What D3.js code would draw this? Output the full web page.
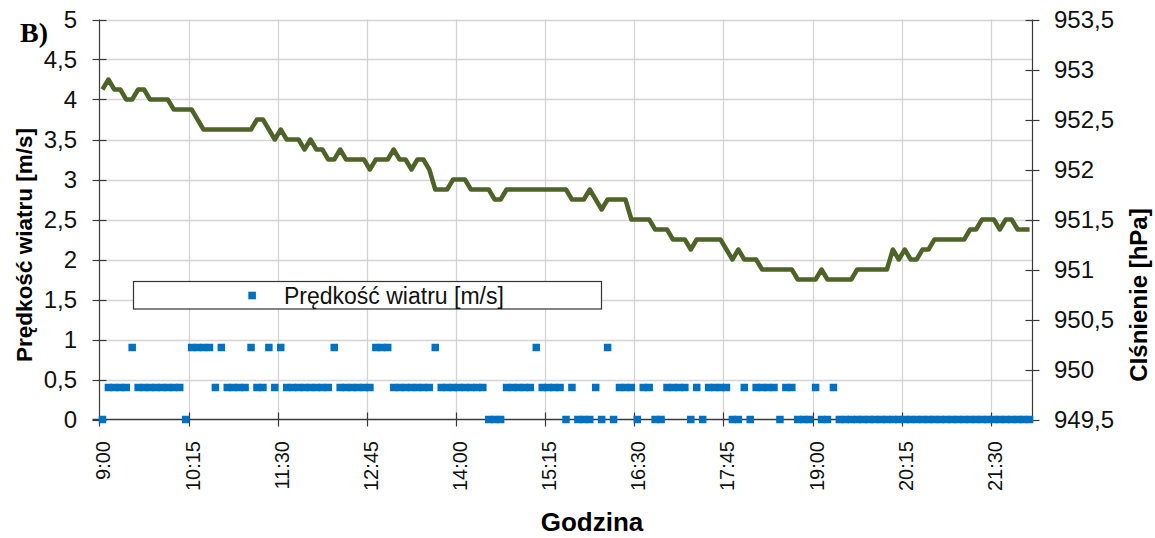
<!DOCTYPE html>
<html>
<head>
<meta charset="utf-8">
<script src="https://cdn.jsdelivr.net/npm/d3@7"></script>
<style>
  html, body { margin: 0; padding: 0; background: #fff; }
  svg { display: block; font-family: "Liberation Sans", Arial, sans-serif; }
</style>
</head>
<body>
<svg id="chart" width="1155" height="538"></svg>
<script>
// ---- data ----
const categories = [];
for (let m = 9 * 60; m <= 22 * 60; m += 5) {
  categories.push(Math.floor(m / 60) + ":" + String(m % 60).padStart(2, "0"));
}
const tickLabels = ["9:00", "10:15", "11:30", "12:45", "14:00", "15:15", "16:30", "17:45", "19:00", "20:15", "21:30"];
const windTicks = [0, 0.5, 1, 1.5, 2, 2.5, 3, 3.5, 4, 4.5, 5];
const pressureTicks = [949.5, 950, 950.5, 951, 951.5, 952, 952.5, 953, 953.5];

const windSpeed = [
  0, 0.4, 0.4, 0.4, 0.4, 0.9, 0.4, 0.4, 0.4, 0.4,
  0.4, 0.4, 0.4, 0.4, 0, 0.9, 0.9, 0.9, 0.9, 0.4,
  0.9, 0.4, 0.4, 0.4, 0.4, 0.9, 0.4, 0.4, 0.9, 0.4,
  0.9, 0.4, 0.4, 0.4, 0.4, 0.4, 0.4, 0.4, 0.4, 0.9,
  0.4, 0.4, 0.4, 0.4, 0.4, 0.4, 0.9, 0.9, 0.9, 0.4,
  0.4, 0.4, 0.4, 0.4, 0.4, 0.4, 0.9, 0.4, 0.4, 0.4,
  0.4, 0.4, 0.4, 0.4, 0.4, 0, 0, 0, 0.4, 0.4,
  0.4, 0.4, 0.4, 0.9, 0.4, 0.4, 0.4, 0.4, 0, 0.4,
  0, 0, 0, 0.4, 0, 0.9, 0, 0.4, 0.4, 0.4,
  0, 0.4, 0.4, 0, 0, 0.4, 0.4, 0.4, 0.4, 0,
  0.4, 0, 0.4, 0.4, 0.4, 0.4, 0, 0, 0.4, 0,
  0.4, 0.4, 0.4, 0.4, 0, 0.4, 0.4, 0, 0, 0,
  0.4, 0, 0, 0.4, 0, 0, 0, 0, 0, 0,
  0, 0, 0, 0, 0, 0, 0, 0, 0, 0,
  0, 0, 0, 0, 0, 0, 0, 0, 0, 0,
  0, 0, 0, 0, 0, 0, 0
];

const pressure = [
  952.8, 952.9, 952.8, 952.8, 952.7, 952.7, 952.8, 952.8, 952.7, 952.7,
  952.7, 952.7, 952.6, 952.6, 952.6, 952.6, 952.5, 952.4, 952.4, 952.4,
  952.4, 952.4, 952.4, 952.4, 952.4, 952.4, 952.5, 952.5, 952.4, 952.3,
  952.4, 952.3, 952.3, 952.3, 952.2, 952.3, 952.2, 952.2, 952.1, 952.1,
  952.2, 952.1, 952.1, 952.1, 952.1, 952.0, 952.1, 952.1, 952.1, 952.2,
  952.1, 952.1, 952.0, 952.1, 952.1, 952.0, 951.8, 951.8, 951.8, 951.9,
  951.9, 951.9, 951.8, 951.8, 951.8, 951.8, 951.7, 951.7, 951.8, 951.8,
  951.8, 951.8, 951.8, 951.8, 951.8, 951.8, 951.8, 951.8, 951.8, 951.7,
  951.7, 951.7, 951.8, 951.7, 951.6, 951.7, 951.7, 951.7, 951.7, 951.5,
  951.5, 951.5, 951.5, 951.4, 951.4, 951.4, 951.3, 951.3, 951.3, 951.2,
  951.3, 951.3, 951.3, 951.3, 951.3, 951.2, 951.1, 951.2, 951.1, 951.1,
  951.1, 951.0, 951.0, 951.0, 951.0, 951.0, 951.0, 950.9, 950.9, 950.9,
  950.9, 951.0, 950.9, 950.9, 950.9, 950.9, 950.9, 951.0, 951.0, 951.0,
  951.0, 951.0, 951.0, 951.2, 951.1, 951.2, 951.1, 951.1, 951.2, 951.2,
  951.3, 951.3, 951.3, 951.3, 951.3, 951.3, 951.4, 951.4, 951.5, 951.5,
  951.5, 951.4, 951.5, 951.5, 951.4, 951.4, 951.4
];

// ---- layout ----
const svg = d3.select("#chart");
const L = 99.5, R = 1032.5, T = 19.5, B = 419.5;

const x = d3.scaleBand().domain(categories).range([L, R]).padding(0);
const yL = d3.scaleLinear().domain([0, 5]).range([B, T]);
const yR = d3.scaleLinear().domain([949.5, 953.5]).range([B, T]);
const cx = c => x(c) + x.bandwidth() / 2;

const gridColor = "#d4d4d4";
const axisColor = "#3a3a3a";

// horizontal gridlines
svg.append("g").selectAll("line").data(windTicks.filter(d => d > 0)).join("line")
  .attr("x1", L).attr("x2", R)
  .attr("y1", d => Math.round(yL(d)) + 0.5).attr("y2", d => Math.round(yL(d)) + 0.5)
  .attr("stroke", gridColor).attr("stroke-width", 1.3);

// vertical gridlines
const gridCats = tickLabels.slice(1);
svg.append("g").selectAll("line").data(gridCats).join("line")
  .attr("x1", d => Math.round(x(d)) + 0.5).attr("x2", d => Math.round(x(d)) + 0.5)
  .attr("y1", T).attr("y2", B)
  .attr("stroke", gridColor).attr("stroke-width", 1.3);

// axes lines
svg.append("line").attr("x1", L).attr("x2", L).attr("y1", T).attr("y2", B + 7).attr("stroke", axisColor).attr("stroke-width", 1.2);
svg.append("line").attr("x1", R).attr("x2", R).attr("y1", T).attr("y2", B).attr("stroke", axisColor).attr("stroke-width", 1.2);
svg.append("line").attr("x1", L - 7).attr("x2", R).attr("y1", B).attr("y2", B).attr("stroke", axisColor).attr("stroke-width", 1.6);

// left ticks + labels
const gl = svg.append("g");
gl.selectAll("line").data(windTicks).join("line")
  .attr("x1", L - 7).attr("x2", L + 7)
  .attr("y1", d => Math.round(yL(d)) + 0.5).attr("y2", d => Math.round(yL(d)) + 0.5)
  .attr("stroke", axisColor).attr("stroke-width", 1.2);
gl.selectAll("text").data(windTicks).join("text")
  .attr("x", 77).attr("y", d => yL(d)).attr("dy", "0.36em")
  .attr("text-anchor", "end").attr("font-size", 24).attr("fill", "#111")
  .text(d => String(d).replace(".", ","));

// right ticks + labels
const gr = svg.append("g");
gr.selectAll("line").data(pressureTicks).join("line")
  .attr("x1", R - 7).attr("x2", R + 7)
  .attr("y1", d => Math.round(yR(d)) + 0.5).attr("y2", d => Math.round(yR(d)) + 0.5)
  .attr("stroke", axisColor).attr("stroke-width", 1.2);
gr.selectAll("text").data(pressureTicks).join("text")
  .attr("x", 1054).attr("y", d => yR(d)).attr("dy", "0.36em")
  .attr("text-anchor", "start").attr("font-size", 24).attr("fill", "#111")
  .text(d => String(d).replace(".", ","));

// bottom ticks + labels
const gb = svg.append("g");
gb.selectAll("line").data(gridCats).join("line")
  .attr("x1", d => Math.round(x(d)) + 0.5).attr("x2", d => Math.round(x(d)) + 0.5)
  .attr("y1", B - 7).attr("y2", B + 7)
  .attr("stroke", axisColor).attr("stroke-width", 1.2);
gb.selectAll("text").data(tickLabels).join("text")
  .attr("transform", d => `translate(${cx(d) + 1},441) rotate(-90)`)
  .attr("dy", "0.35em")
  .attr("text-anchor", "end").attr("font-size", 20).attr("fill", "#111")
  .text(d => d);

// wind markers
const ms = 7.5;
svg.append("g").selectAll("rect").data(windSpeed).join("rect")
  .attr("x", (d, i) => cx(categories[i]) - ms / 2)
  .attr("y", d => yL(d) - ms / 2)
  .attr("width", ms).attr("height", ms)
  .attr("fill", "#0070c0");

// pressure line
const line = d3.line()
  .x((d, i) => cx(categories[i]))
  .y(d => yR(d));
svg.append("path").datum(pressure)
  .attr("d", line)
  .attr("fill", "none").attr("stroke", "#4f6228")
  .attr("stroke-width", 4.5).attr("stroke-linejoin", "round").attr("stroke-linecap", "butt");

// legend
const lg = svg.append("g");
lg.append("rect").attr("x", 133.5).attr("y", 281.5).attr("width", 468).attr("height", 27.5)
  .attr("fill", "#fff").attr("stroke", "#333").attr("stroke-width", 1.2);
lg.append("rect").attr("x", 248.3).attr("y", 291.7).attr("width", 7.6).attr("height", 7.6).attr("fill", "#0070c0");
lg.append("text").attr("x", 284).attr("y", 303.5).attr("font-size", 23).attr("fill", "#111")
  .text("Prędkość wiatru [m/s]");

// axis titles
svg.append("text")
  .attr("transform", "translate(24,245) rotate(-90)")
  .attr("dy", "0.35em")
  .attr("text-anchor", "middle").attr("font-size", 22.5).attr("font-weight", "bold").attr("fill", "#000")
  .text("Prędkość wiatru [m/s]");
svg.append("text")
  .attr("transform", "translate(1139,295) rotate(-90)")
  .attr("dy", "0.35em")
  .attr("text-anchor", "middle").attr("font-size", 24).attr("font-weight", "bold").attr("fill", "#000")
  .text("CIśnienie [hPa]");
svg.append("text")
  .attr("x", 592).attr("y", 531)
  .attr("text-anchor", "middle").attr("font-size", 26).attr("font-weight", "bold").attr("fill", "#000")
  .text("Godzina");

// panel letter
svg.append("text")
  .attr("x", 20).attr("y", 42)
  .attr("font-family", "'Liberation Serif', 'Times New Roman', serif")
  .attr("font-size", 28).attr("font-weight", "bold").attr("fill", "#000")
  .text("B)");
</script>
</body>
</html>
